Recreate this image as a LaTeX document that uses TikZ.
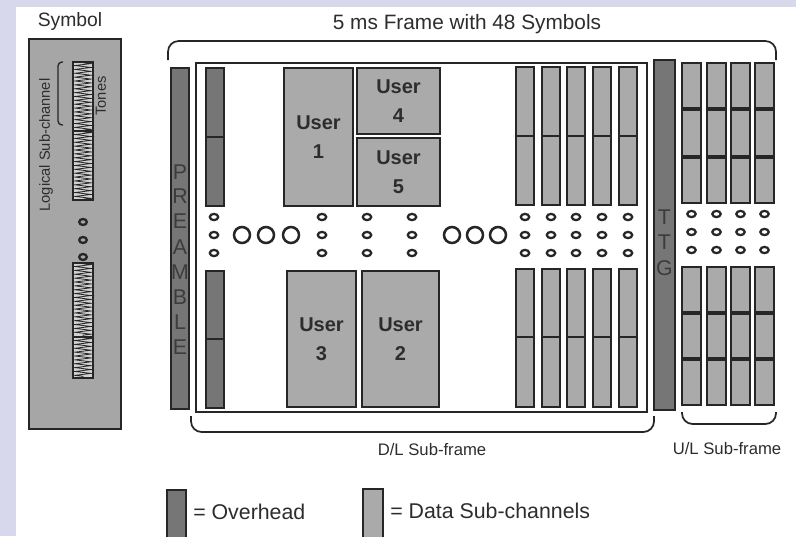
\documentclass[tikz,border=0pt]{standalone}
\usepackage{fontspec}
\setmainfont{Liberation Sans}
\usetikzlibrary{fit,calc,decorations.pathmorphing}
\definecolor{lav}{RGB}{216,216,236}
\definecolor{edge}{RGB}{38,38,38}
\definecolor{ovhfill}{RGB}{118,118,118}
\definecolor{datafill}{RGB}{170,170,170}
\definecolor{symfill}{RGB}{166,166,166}
\definecolor{tonefill}{RGB}{210,210,210}
\definecolor{ink}{RGB}{45,45,45}
\definecolor{letterfg}{RGB}{60,60,60}
\begin{document}
\begin{tikzpicture}[x=0.75pt,y=-0.75pt,
  box/.style={draw=edge, line width=1.5pt, inner sep=0pt},
  ovh/.style={box, fill=ovhfill},
  data/.style={box, fill=datafill},
  user/.style={data},
  usertext/.style={align=center, text=ink,
    font=\bfseries\fontsize{15}{21.75}\selectfont},
  dotmark/.style={draw=edge, line width=1.7pt},
  bigdot/.style={draw=edge, line width=1.9pt},
  brace/.style={draw=edge, line width=1.3pt, rounded corners=8pt},
  lbl/.style={text=ink, inner sep=0pt},
  barletter/.style={text=letterfg, inner sep=0pt, font=\fontsize{16}{18}\selectfont},
  zig/.style={draw=edge, line width=0.6pt, decorate,
    decoration={zigzag, amplitude=6pt, segment length=2.9pt}}]

\useasboundingbox (0,0) rectangle (796,536);
\clip (0,0) rectangle (796,536);
\fill[lav] (0,0) rectangle (796,536);
\fill[white] (16,7) rectangle (796,536);

% ---------- single symbol ----------
\node[lbl, font=\fontsize{14.5}{17}\selectfont] (symlbl) at (70,21) {Symbol};
\node[box, fill=symfill, fit={(29,39)(121,429)}] (sym) {};
\foreach \a/\b [count=\k] in {62/131, 131/200, 263/337, 337/378} {
  \node[box, line width=1.3pt, fill=tonefill, fit={(73,\a)(93,\b)}] (tone\k) {};
  \draw[zig] ($(tone\k.north)+(0,1.5)$) -- ($(tone\k.south)+(0,-1.5)$);
}
\foreach \y [count=\k] in {222,240,257}
  \draw[dotmark] (83,\y) ellipse [x radius=3.8, y radius=3];
\coordinate (brtop) at (63,62);
\coordinate (brbot) at (63,125);
\draw[draw=edge, line width=1pt, rounded corners=3pt]
  (brtop) -- (58,62) -- (58,125) -- (brbot);
\node[lbl, rotate=90, font=\fontsize{11}{13}\selectfont] (lsc) at (46,145) {Logical Sub-channel};
\node[lbl, rotate=90, font=\fontsize{11}{13}\selectfont] (tones) at (101,96) {Tones};

% ---------- frame brace and title ----------
\coordinate (fl) at (168,60);
\coordinate (fr) at (776,60);
\draw[brace] (fl) -- (168,41) -- (776,41) -- (fr);
\node[lbl, font=\fontsize{15.6}{18}\selectfont] (title) at (467,24) {5 ms Frame with 48 Symbols};

% ---------- preamble ----------
\node[ovh, fit={(171,68)(189,409)}] (pre) {};
\foreach \l/\y [count=\k] in {P/172,R/196,E/221,A/247,M/272,B/297,L/322,E/347}
  \node[barletter] (pre\k) at (180,\y) {\l};

% ---------- downlink sub-frame ----------
\node[draw=edge, line width=2.2pt, inner sep=0pt, fit={(196,63)(647,412)}] (dl) {};

% overhead column
\foreach \a/\b [count=\k] in {68/137, 137/206, 271/339, 339/408}
  \node[ovh, fit={(206,\a)(224,\b)}] (dlo\k) {};

% user bursts
\node[user, fit={(284,68)(353,206)}] (u1) {};
\node[user, fit={(357,68)(440,134)}] (u4) {};
\node[user, fit={(357,138)(440,206)}] (u5) {};
\node[user, fit={(287,271)(356,407)}] (u3) {};
\node[user, fit={(362,271)(439,407)}] (u2) {};
\foreach \n in {1,4,5,3,2}
  \node[usertext] (u\n t) at (u\n.center) {User\\\n};

% data columns
\foreach \x [count=\k] in {516,542,567,593,619} {
  \node[data, fit={(\x,67)(\x+18,136)}] (dda\k) {};
  \node[data, fit={(\x,136)(\x+18,205)}] (ddb\k) {};
  \node[data, fit={(\x,269)(\x+18,337)}] (ddc\k) {};
  \node[data, fit={(\x,337)(\x+18,407)}] (ddd\k) {};
}

% continuation marks
\foreach \x in {214,322,367,412,525,551,576,602,628}
  \foreach \y in {217,235,253}
    \draw[dotmark] (\x,\y) ellipse [x radius=4.2, y radius=3.1];
\foreach \x in {242,266,291,452,475,498}
  \draw[bigdot] (\x,235) circle [radius=8];

% ---------- transmit/transmit gap ----------
\node[ovh, fit={(654,60)(675,410)}] (ttg) {};
\foreach \l/\y [count=\k] in {T/217,T/242,G/268}
  \node[barletter] (ttg\k) at (664.5,\y) {\l};

% ---------- uplink sub-frame ----------
\foreach \x [count=\k] in {682,707,731,755} {
  \foreach \a/\b [count=\j] in {63/108, 110/156, 158/203, 267/312, 314/358, 360/405}
    \node[data, fit={(\x,\a)(\x+19,\b)}] (ul\k-\j) {};
  \foreach \y in {214,232,250}
    \draw[dotmark] (\x+9.5,\y) ellipse [x radius=4.2, y radius=3.1];
}

% ---------- sub-frame braces ----------
\coordinate (dll) at (191,416);
\coordinate (dlr) at (654,416);
\draw[brace] (dll) -- (191,432) -- (654,432) -- (dlr);
\node[lbl, font=\fontsize{12.5}{15}\selectfont] (dltxt) at (432,450) {D/L Sub-frame};
\coordinate (ull) at (682,412);
\coordinate (ulr) at (776,412);
\draw[brace] (ull) -- (682,424) -- (776,424) -- (ulr);
\node[lbl, font=\fontsize{12.5}{15}\selectfont] (ultxt) at (727,449) {U/L Sub-frame};

% ---------- legend ----------
\node[ovh, fit={(167,490)(186,545)}] (legovh) {};
\node[lbl, anchor=west, font=\fontsize{16}{19}\selectfont] (legovhtxt) at (193,512) {= Overhead};
\node[data, fit={(363,489)(383,545)}] (legdata) {};
\node[lbl, anchor=west, font=\fontsize{16}{19}\selectfont] (legdatatxt) at (390,511) {= Data Sub-channels};
\end{tikzpicture}
\end{document}
